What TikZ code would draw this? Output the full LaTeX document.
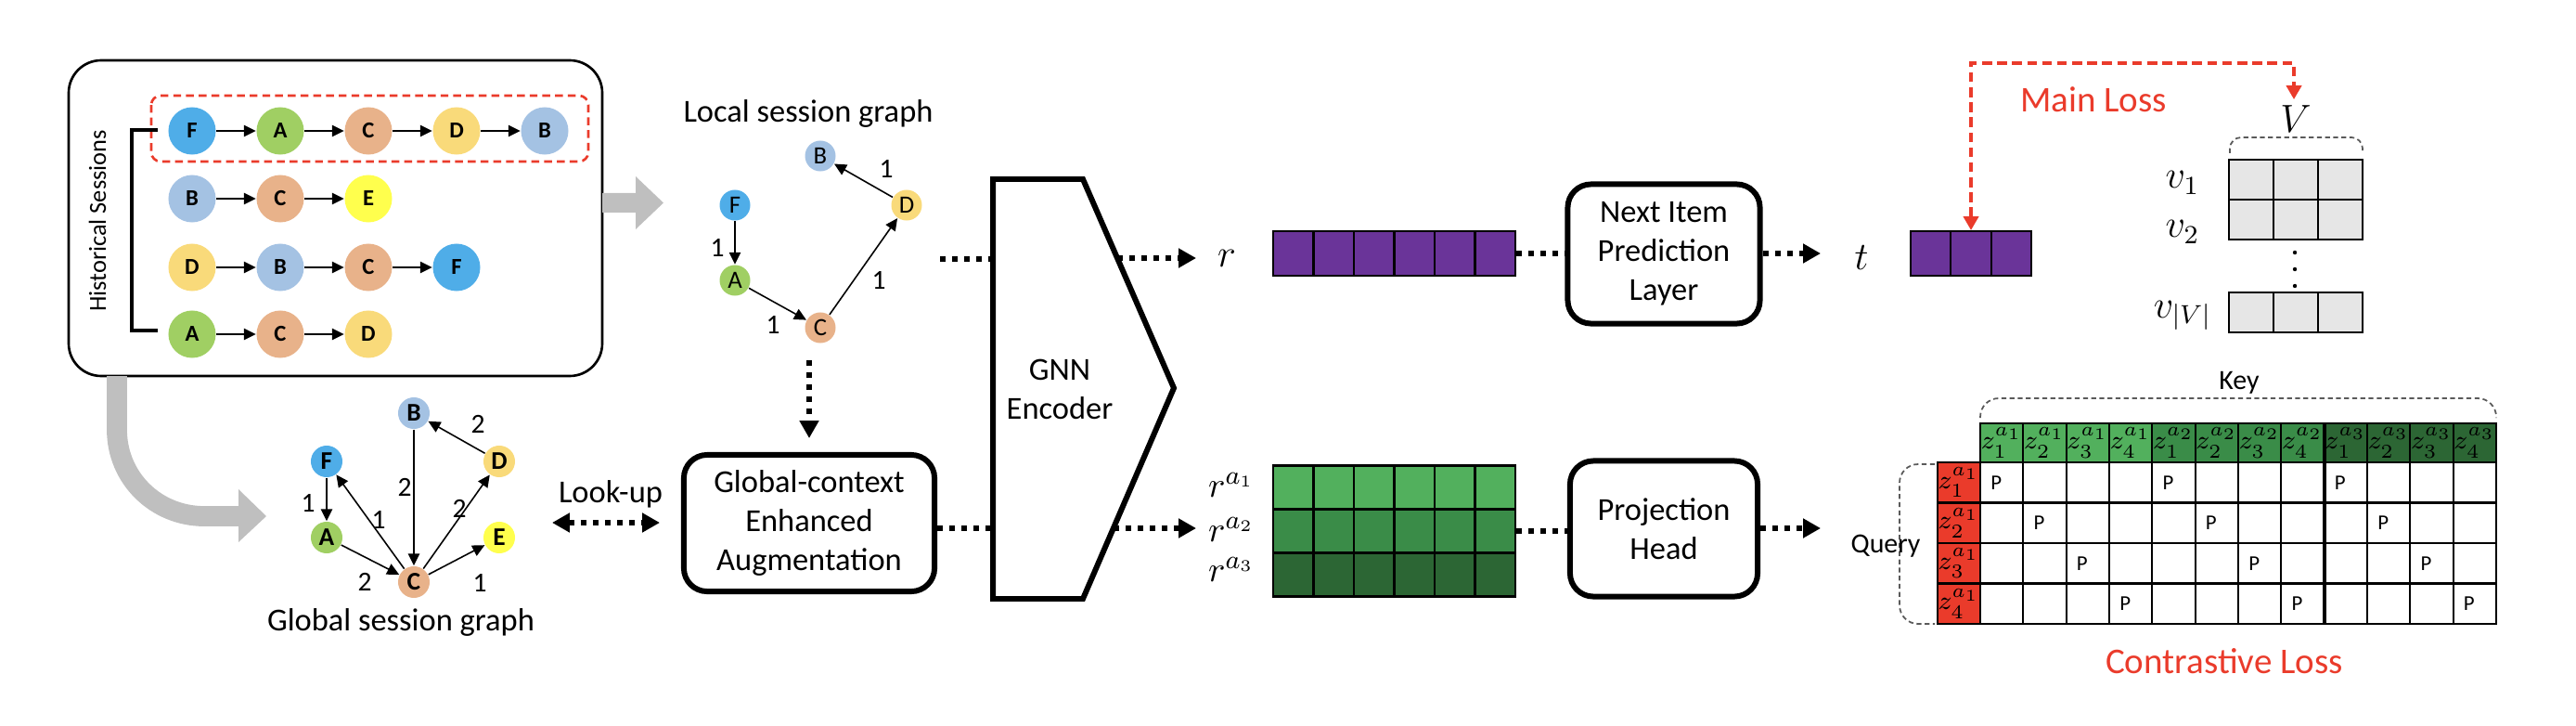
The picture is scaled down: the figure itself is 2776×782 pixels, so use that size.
\documentclass[tikz,border=0pt]{standalone}
\usepackage{fontspec}
\setmainfont{Carlito}
\usetikzlibrary{arrows.meta}
\definecolor{cF}{RGB}{79,173,232}
\definecolor{cA}{RGB}{160,207,99}
\definecolor{cC}{RGB}{232,178,138}
\definecolor{cD}{RGB}{249,218,122}
\definecolor{cB}{RGB}{164,194,227}
\definecolor{cE}{RGB}{255,255,77}
\definecolor{cPur}{RGB}{106,52,153}
\definecolor{cG1}{RGB}{82,176,93}
\definecolor{cG2}{RGB}{58,140,72}
\definecolor{cG3}{RGB}{44,102,52}
\definecolor{cRed}{RGB}{234,59,43}
\definecolor{cGray}{RGB}{191,191,191}
\definecolor{cLight}{RGB}{230,230,230}
\definecolor{cBrace}{RGB}{90,90,90}
\begin{document}
\begin{tikzpicture}[x=0.01cm,y=-0.01cm,
 hn/.style={circle,minimum size=0.51cm,inner sep=0pt,font=\fontsize{7}{8}\selectfont\bfseries},
 ln/.style={circle,minimum size=0.33cm,inner sep=0pt,font=\fontsize{7.6}{9}\selectfont},
 gn/.style={circle,minimum size=0.34cm,inner sep=0pt,font=\fontsize{7.8}{9}\selectfont\bfseries},
 harr/.style={line width=0.45pt,-{Triangle[length=3.7pt,width=3.5pt]}},
 elab/.style={font=\fontsize{8.4}{10}\selectfont,inner sep=0pt},
 dotl/.style={line width=1.7pt,dash pattern=on 1.7pt off 2pt},
 dotarr/.style={dotl,-{Triangle[length=5.4pt,width=5.7pt]}},
 blk/.style={draw,line width=1.7pt,rounded corners=0.25cm,align=center,inner sep=0pt,font=\fontsize{9.8}{11.95}\selectfont},
 txt/.style={font=\fontsize{9.8}{11.95}\selectfont,inner sep=0pt,align=center},
 redlab/.style={text=cRed,font=\fontsize{11.1}{13}\selectfont,inner sep=0pt},
 pcell/.style={draw,fill=cPur,line width=0.6pt,minimum width=0.435cm,minimum height=0.48cm,inner sep=0pt},
 gcell/.style={draw,line width=0.6pt,minimum width=0.4333cm,minimum height=0.47cm,inner sep=0pt},
 vcell/.style={draw,fill=cLight,line width=0.8pt,minimum width=0.48cm,minimum height=0.43cm,inner sep=0pt},
 tcell/.style={draw,line width=0.6pt,minimum width=0.4633cm,minimum height=0.435cm,inner sep=0pt},
 zlab/.style={inner sep=0pt,font=\fontsize{8.4}{9}\selectfont},
 pfont/.style={font=\fontsize{6.5}{8}\selectfont,inner sep=0pt},
 brace/.style={cBrace,line width=0.5pt,dash pattern=on 1.5pt off 1pt},
 mlab/.style={inner sep=0pt,font=\fontsize{11.5}{13}\selectfont}
]
\useasboundingbox (0,0) rectangle (2776,782);

% ---------------- Historical sessions ----------------
\draw[line width=0.75pt,rounded corners=0.35cm] (74,65) rectangle (649,405);
\draw[cRed,line width=0.75pt,dash pattern=on 2.4pt off 1.5pt,rounded corners=0.1cm] (163,103) rectangle (634,174);
\draw[line width=1pt] (170,140) -- (142,140) -- (142,356) -- (170,356);
\node[rotate=90,font=\fontsize{7.5}{9}\selectfont,inner sep=0pt] (hist) at (105,238) {Historical Sessions};

\node[hn,fill=cF] (h11) at (207,141) {F};
\node[hn,fill=cA] (h12) at (302,141) {A};
\node[hn,fill=cC] (h13) at (397,141) {C};
\node[hn,fill=cD] (h14) at (492,141) {D};
\node[hn,fill=cB] (h15) at (587,141) {B};
\node[hn,fill=cB] (h21) at (207,214) {B};
\node[hn,fill=cC] (h22) at (302,214) {C};
\node[hn,fill=cE] (h23) at (397,214) {E};
\node[hn,fill=cD] (h31) at (207,288) {D};
\node[hn,fill=cB] (h32) at (302,288) {B};
\node[hn,fill=cC] (h33) at (397,288) {C};
\node[hn,fill=cF] (h34) at (492,288) {F};
\node[hn,fill=cA] (h41) at (207,360) {A};
\node[hn,fill=cC] (h42) at (302,360) {C};
\node[hn,fill=cD] (h43) at (397,360) {D};
\draw[harr] (h11) -- (h12); \draw[harr] (h12) -- (h13); \draw[harr] (h13) -- (h14); \draw[harr] (h14) -- (h15);
\draw[harr] (h21) -- (h22); \draw[harr] (h22) -- (h23);
\draw[harr] (h31) -- (h32); \draw[harr] (h32) -- (h33); \draw[harr] (h33) -- (h34);
\draw[harr] (h41) -- (h42); \draw[harr] (h42) -- (h43);

% gray arrows
\fill[cGray] (649,208) -- (685,208) -- (685,190) -- (715,218.5) -- (685,247) -- (685,229) -- (649,229) -- cycle;
\draw[cGray,line width=6.2pt] (126,405) -- (126,463) .. controls (126,515) and (168,556) .. (220,556) -- (258,556);
\fill[cGray] (257,527) -- (287,556) -- (257,584) -- cycle;

% ---------------- Local session graph ----------------
\node[txt] (ltitle) at (871,122) {Local session graph};
\node[ln,fill=cB] (lB) at (884,168) {B};
\node[ln,fill=cF] (lF) at (792,221) {F};
\node[ln,fill=cA] (lA) at (792,302) {A};
\node[ln,fill=cC] (lC) at (884,353) {C};
\node[ln,fill=cD] (lD) at (977,221) {D};
\draw[harr] (lF) -- (lA);
\draw[harr] (lA) -- (lC);
\draw[harr] (lC) -- (lD);
\draw[harr] (lD) -- (lB);
\node[elab] (l1) at (773,267) {1};
\node[elab] (l2) at (833,350) {1};
\node[elab] (l3) at (947,302) {1};
\node[elab] (l4) at (955,182) {1};

% ---------------- Global session graph ----------------
\node[gn,fill=cB] (gB) at (446,445) {B};
\node[gn,fill=cF] (gF) at (352,497) {F};
\node[gn,fill=cD] (gD) at (538,497) {D};
\node[gn,fill=cA] (gA) at (352,579) {A};
\node[gn,fill=cE] (gE) at (538,579) {E};
\node[gn,fill=cC] (gC) at (446,627) {C};
\draw[harr] (gF) -- (gA);
\draw[harr] (gA) -- (gC);
\draw[harr] (gB) -- (gC);
\draw[harr] (gC) -- (gF);
\draw[harr] (gC) -- (gD);
\draw[harr] (gC) -- (gE);
\draw[harr] (gD) -- (gB);
\node[elab] at (332,542) {1};
\node[elab] at (408,560) {1};
\node[elab] at (436,525) {2};
\node[elab] at (495,548) {2};
\node[elab] at (515,457) {2};
\node[elab] at (393,627) {2};
\node[elab] at (517,628) {1};
\node[txt] (gtitle) at (432,670) {Global session graph};

% Look-up
\node[txt] (lookup) at (658,532) {Look-up};
\coordinate (luL) at (595,563);
\coordinate (luR) at (711,563);
\draw[dotl,{Triangle[length=5.4pt,width=5.7pt]}-{Triangle[length=5.4pt,width=5.7pt]}] (luL) -- (luR);

% ---------------- Blocks ----------------
\node[blk,minimum width=2.70cm,minimum height=1.47cm] (aug) at (872,563.5) {Global-context\\Enhanced\\Augmentation};
\coordinate (locdown) at (872,388);
\draw[dotarr] (locdown) -- (872,472);

% GNN encoder
\draw[line width=1.7pt,line join=miter] (1070,193) -- (1167,193) -- (1265,418) -- (1167,645) -- (1070,645) -- cycle;
\node[txt] (gnn) at (1142,419) {GNN\\Encoder};
\coordinate (gnnL1) at (1070,279);
\coordinate (gnnR1) at (1204,278);
\coordinate (gnnL2) at (1070,569);
\coordinate (gnnR2) at (1200,569);
\coordinate (locout) at (1013,279);
\draw[dotl] (locout) -- (gnnL1);
\draw[dotl] (aug.east |- gnnL2) -- (gnnL2);

% r outputs
\node[mlab,font=\fontsize{11.5}{13}\selectfont] (r) at (1322,278) {$r$};
\draw[dotarr] (gnnR1) -- (1289,278);
\foreach \i in {0,...,5} \node[pcell] (rb\i) at ({1393.75+43.5*\i},273) {};

\node[mlab,font=\fontsize{10.8}{12}\selectfont] (ra1) at (1327,522) {$r^{a_1}$};
\node[mlab,font=\fontsize{10.8}{12}\selectfont] (ra2) at (1327,570) {$r^{a_2}$};
\node[mlab,font=\fontsize{10.8}{12}\selectfont] (ra3) at (1327,613) {$r^{a_3}$};
\draw[dotarr] (gnnR2) -- (1289,569);
\foreach \i in {0,...,5} {
  \node[gcell,fill=cG1] (ga\i) at ({1393.75+43.5*\i},525) {};
  \node[gcell,fill=cG2] (gb\i) at ({1393.75+43.5*\i},572) {};
  \node[gcell,fill=cG3] (gc\i) at ({1393.75+43.5*\i},619) {};
}

\node[blk,minimum width=2.07cm,minimum height=1.50cm] (nip) at (1793,273.5) {Next Item\\Prediction\\Layer};
\node[blk,minimum width=2.02cm,minimum height=1.46cm] (proj) at (1793,569.5) {Projection\\Head};
\draw[dotl] (rb5.east) -- (nip.west |- rb5.east);
\draw[dotl] (gb5.east) -- (proj.west |- gb5.east);
\coordinate (ttip) at (1962,273);
\draw[dotarr] (nip.east |- ttip) -- (ttip);
\coordinate (qtip) at (1962,569);
\draw[dotarr] (proj.east |- qtip) -- (qtip);

\node[mlab,font=\fontsize{11.5}{13}\selectfont] (t) at (2006,278) {$t$};
\foreach \i in {0,1,2} \node[pcell,minimum width=0.433cm] (sb\i) at ({2080.7+43.3*\i},273) {};

% ---------------- Main loss ----------------
\node[redlab] (mainloss) at (2256,107) {Main Loss};
\coordinate (vtip) at (2472,107);
\draw[cRed,line width=0.9pt,dash pattern=on 3pt off 1.6pt,{Triangle[length=4.2pt,width=4.6pt]}-{Triangle[length=4.2pt,width=4.6pt]}] (sb1.north) -- (2124.0,68) -- (2472,68) -- (vtip);
\node[mlab,font=\fontsize{11.5}{13}\selectfont] (V) at (2474,128) {$V$};
\draw[brace,rounded corners=0.12cm] (2403,165) -- (2403,148) -- (2546,148) -- (2546,165);
\foreach \i in {0,1,2} {
  \node[vcell] (va\i) at ({2426+48*\i},193.5) {};
  \node[vcell] (vb\i) at ({2426+48*\i},236.5) {};
  \node[vcell] (vc\i) at ({2426+48*\i},336.5) {};
}
\foreach \y in {272,290,308} \fill (2473,\y) circle (0.022cm);
\node[mlab,font=\fontsize{12}{13}\selectfont] (v1) at (2352,197) {$v_1$};
\node[mlab,font=\fontsize{12}{13}\selectfont] (v2) at (2352,250) {$v_2$};
\node[mlab,font=\fontsize{12}{13}\selectfont] (vV) at (2352,340) {$v_{|V|}$};

% ---------------- Contrastive table ----------------
\node[font=\fontsize{8.5}{10}\selectfont,inner sep=0pt] (key) at (2413,412) {Key};
\draw[brace,rounded corners=0.2cm] (2134,450) -- (2134,429) -- (2690,429) -- (2690,450);
\foreach \c in {1,...,12} {
  \pgfmathtruncatemacro\g{(\c-1)/4+1}
  \pgfmathtruncatemacro\k{mod(\c-1,4)+1}
  \node[tcell,fill=cG\g,minimum height=0.42cm] (k\c) at ({2134+46.33*(\c-0.5)},477) {};
  \node[zlab] at (k\c) {$z_{\k}^{a_{\g}}$};
}
\foreach \r in {1,...,4} {
  \node[tcell,fill=cRed] (q\r) at (2111,{498+43.5*(\r-0.5)}) {};
  \node[zlab] at (q\r) {$z_{\r}^{a_1}$};
  \foreach \c in {1,...,12} \node[tcell] (m\r-\c) at ({2134+46.33*(\c-0.5)},{498+43.5*(\r-0.5)}) {};
  \foreach \o in {0,4,8} \node[pfont] at ({2134+46.33*(\r+\o-0.5)-6},{498+43.5*(\r-0.5)}) {P};
}
\draw[line width=1.1pt] (2504.6,456) -- (2504.6,672);
\draw[brace,rounded corners=0.2cm] (2085,500) -- (2047,500) -- (2047,672) -- (2085,672);
\node[font=\fontsize{8.5}{10}\selectfont,inner sep=0pt] (query) at (2032,588) {Query};
\node[redlab] (closs) at (2397,712) {Contrastive Loss};
\end{tikzpicture}
\end{document}
